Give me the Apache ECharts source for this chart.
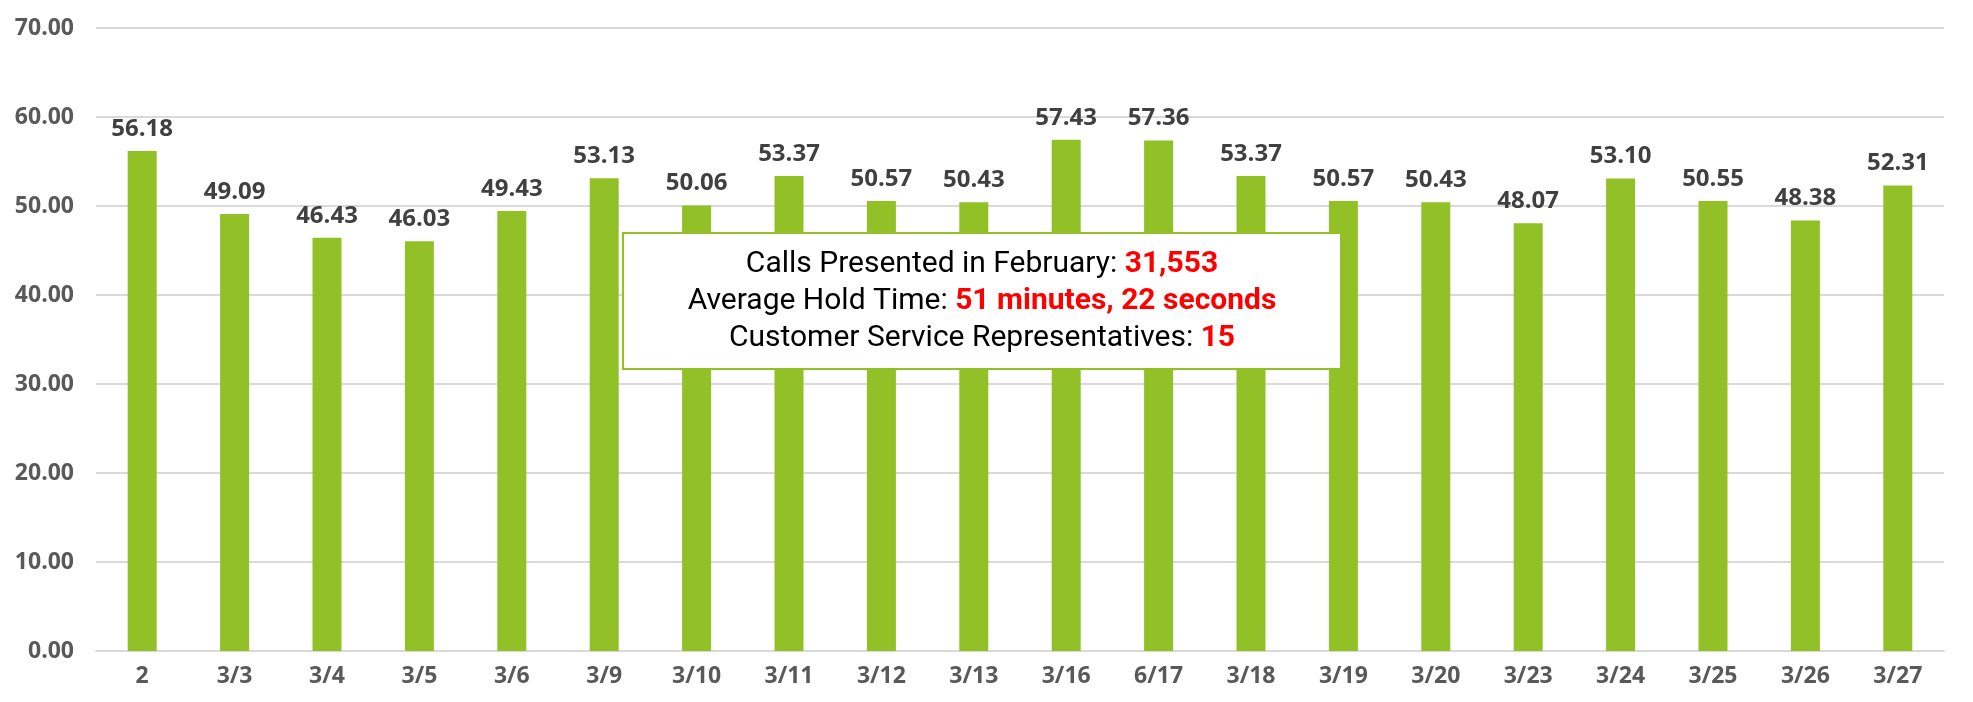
<!DOCTYPE html>
<html>
<head>
<meta charset="utf-8">
<script src="https://cdn.jsdelivr.net/npm/echarts@6/dist/echarts.min.js"></script>
<style>
html,body{margin:0;padding:0;background:#fff;}
#chart{width:1973px;height:702px;}
</style>
</head>
<body>
<div id="chart"></div>
<script>
var categories = ['2','3/3','3/4','3/5','3/6','3/9','3/10','3/11','3/12','3/13','3/16','6/17','3/18','3/19','3/20','3/23','3/24','3/25','3/26','3/27'];
var holdMinutes = [56.18,49.09,46.43,46.03,49.43,53.13,50.06,53.37,50.57,50.43,57.43,57.36,53.37,50.57,50.43,48.07,53.10,50.55,48.38,52.31];
var yTicks = {min: 0, max: 70, interval: 10};
var infoLines = [
  ['Calls Presented in February: ', '31,553'],
  ['Average Hold Time: ', '51 minutes, 22 seconds'],
  ['Customer Service Representatives: ', '15']
];

var boxFont = "Roboto, sans-serif";
var chart = echarts.init(document.getElementById('chart'));
var infoText = infoLines.map(function (l, i) {
  return {
    type: 'text',
    x: 982,
    y: 264 + i * 37,
    style: {
      text: '{a|' + l[0] + '}{b|' + l[1] + '}',
      align: 'center',
      verticalAlign: 'middle',
      rich: {
        a: {fontFamily: boxFont, fontSize: 30, fill: '#000000'},
        b: {fontFamily: boxFont, fontSize: 30, fontWeight: 'bold', fill: '#FF0000'}
      }
    },
    z: 101
  };
});
chart.setOption({
  animation: false,
  grid: {left: 96, right: 29, top: 28, bottom: 51},
  xAxis: {
    type: 'category',
    data: categories,
    axisLine: {lineStyle: {color: '#D9D9D9', width: 2}},
    axisTick: {show: false},
    axisLabel: {color: '#595959', fontFamily: 'Open Sans', fontWeight: 'bold', fontSize: 23, margin: 14}
  },
  yAxis: {
    type: 'value',
    min: yTicks.min, max: yTicks.max, interval: yTicks.interval,
    axisLine: {show: false},
    axisTick: {show: false},
    splitLine: {lineStyle: {color: '#D9D9D9', width: 2}},
    axisLabel: {
      color: '#595959', fontFamily: 'Open Sans', fontWeight: 'bold', fontSize: 23, margin: 22,
      formatter: function (v) { return v.toFixed(2); }
    }
  },
  series: [{
    type: 'bar',
    data: holdMinutes,
    barWidth: 29,
    itemStyle: {color: '#92C127'},
    label: {
      show: true,
      position: 'top',
      distance: 10,
      color: '#404040',
      fontFamily: 'Open Sans',
      fontWeight: 'bold',
      fontSize: 24,
      formatter: function (p) { return p.value.toFixed(2); }
    }
  }],
  graphic: [{
    type: 'rect',
    shape: {x: 623, y: 233, width: 718, height: 136},
    style: {fill: '#fff', stroke: '#92C127', lineWidth: 2},
    z: 100
  }].concat(infoText)
});
</script>
</body>
</html>
